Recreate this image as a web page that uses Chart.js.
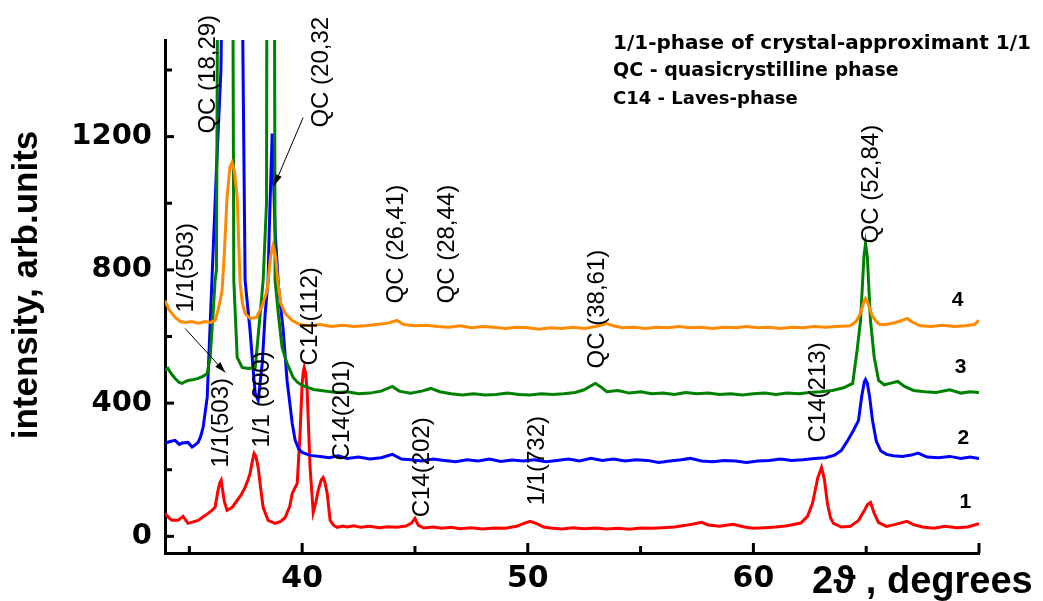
<!DOCTYPE html>
<html>
<head>
<meta charset="utf-8">
<script src="https://cdn.jsdelivr.net/npm/chart.js@4.4.0/dist/chart.umd.min.js"></script>
<style>
  html, body { margin: 0; padding: 0; background: #fff; }
</style>
</head>
<body>
<canvas id="xrd" width="1043" height="601"></canvas>
<script>
// pattern 1 (red)
const redX = [33.92,34.1,34.23,34.5,34.72,34.94,35.2,35.39,35.6,35.83,
  36.0,36.14,36.27,36.35,36.41,36.47,36.55,36.67,36.9,37.12,
  37.3,37.47,37.6,37.69,37.8,37.87,37.95,38.05,38.15,38.27,
  38.49,38.8,39.05,39.25,39.45,39.56,39.78,39.9,40.0,40.05,
  40.09,40.15,40.22,40.35,40.49,40.6,40.71,40.85,40.93,41.0,
  41.11,41.24,41.4,41.55,41.8,42.0,42.3,42.6,43.0,43.4,
  43.8,44.2,44.6,44.85,45.0,45.15,45.4,45.8,46.2,46.6,
  47.0,47.5,48.0,48.5,49.0,49.5,49.8,50.1,50.4,50.7,
  51.0,51.5,52.0,52.5,53.0,53.5,54.0,54.5,55.0,55.5,
  56.0,56.5,57.0,57.4,57.7,58.0,58.5,59.1,59.6,60.0,
  60.5,61.0,61.5,62.1,62.4,62.62,62.85,63.02,63.15,63.28,
  63.42,63.55,63.9,64.3,64.66,64.9,65.05,65.19,65.35,65.54,
  65.9,66.3,66.8,67.1,67.5,68.0,68.5,69.0,69.5,70.0];
const redY = [69,55,48,48,60,39,44,48,58,69,
  78,87,138,160,168,140,105,78,87,108,
  125,147,170,189,228,249,240,207,150,87,
  48,39,45,57,90,129,159,300,459,495,
  507,490,438,207,72,100,138,170,177,165,
  129,48,33,27,31,28,32,27,30,26,
  29,27,31,40,54,33,25,28,24,27,
  23,26,22,25,24,30,38,45,38,28,
  25,22,26,23,25,22,24,21,25,24,
  26,28,33,38,42,34,30,36,28,24,
  26,28,32,40,60,99,175,207,170,99,
  55,39,28,30,48,75,95,102,70,42,
  30,36,45,35,28,24,30,26,28,38];

// pattern 2 (blue)
const blueX = [33.92,34.1,34.37,34.55,34.68,34.94,35.12,35.25,35.39,35.5,
  35.61,35.79,35.88,36.0,36.2,36.4,36.94,37.47,37.69,37.83,
  37.92,38.05,38.15,38.23,38.36,38.49,38.54,38.63,38.67,38.71,
  38.8,38.95,39.16,39.33,39.56,39.69,39.85,40.0,40.35,40.8,
  41.2,41.6,42.0,42.5,43.0,43.5,44.0,44.4,44.8,45.3,
  45.8,46.3,46.8,47.3,47.8,48.3,48.8,49.3,49.8,50.3,
  50.8,51.3,51.8,52.3,52.8,53.3,53.8,54.3,54.8,55.3,
  55.8,56.3,56.8,57.2,57.7,58.2,58.7,59.2,59.7,60.2,
  60.7,61.2,61.7,62.2,62.7,63.2,63.6,63.9,64.2,64.45,
  64.66,64.8,64.92,64.97,65.05,65.15,65.28,65.45,65.65,65.9,
  66.2,66.6,67.0,67.3,67.7,68.2,68.7,69.2,69.6,70.0];
const blueY = [279,284,288,276,280,282,268,274,282,300,
  327,417,567,768,1100,1400,4500,768,618,498,
  429,408,470,519,669,768,918,1119,1209,1119,
  918,750,618,468,339,288,262,252,243,240,
  236,242,234,238,232,236,246,232,230,226,
  232,228,224,230,226,232,225,229,226,230,
  224,228,232,226,234,228,232,226,230,228,
  222,226,230,234,226,224,228,226,222,226,
  228,232,228,230,234,236,244,258,290,320,
  348,420,465,471,460,420,348,285,256,246,
  242,240,244,250,238,236,240,234,238,234];

// pattern 3 (green)
const greenX = [33.92,34.05,34.2,34.37,34.55,34.68,34.8,34.94,35.15,35.39,
  35.6,35.79,35.92,36.05,36.14,36.2,36.63,36.97,37.12,37.34,
  37.6,37.92,38.14,38.27,38.42,38.58,38.8,38.94,39.11,39.33,
  39.6,39.8,40.0,40.5,41.0,41.5,42.0,42.5,43.0,43.5,
  44.0,44.3,44.8,45.3,45.7,46.1,46.6,47.1,47.6,48.1,
  48.6,49.1,49.6,50.1,50.6,51.1,51.6,52.1,52.5,52.8,
  53.0,53.25,53.5,54.0,54.5,55.0,55.5,56.0,56.5,57.0,
  57.5,58.0,58.5,59.0,59.5,60.0,60.5,61.0,61.5,62.0,
  62.5,63.0,63.5,64.0,64.4,64.6,64.75,64.9,64.97,65.05,
  65.19,65.35,65.55,65.8,66.1,66.4,66.7,67.1,67.6,68.1,
  68.7,69.2,69.6,70.0];
const greenY = [498,504,488,474,462,459,464,468,470,474,
  480,489,537,669,768,800,8000,768,537,507,
  504,507,669,768,1000,8000,768,669,567,519,
  477,462,453,441,436,432,434,428,430,436,
  450,436,430,436,444,434,428,424,428,424,
  426,430,426,424,428,426,428,432,440,452,
  459,448,434,438,430,434,428,430,426,432,
  428,430,426,428,424,428,430,426,430,428,
  432,434,438,446,459,560,648,840,879,840,
  648,540,468,455,460,465,450,438,434,432,
  440,430,434,432];

// pattern 4 (orange)
const orangeX = [33.92,34.1,34.37,34.6,34.81,35.1,35.4,35.7,35.95,36.14,
  36.27,36.37,36.45,36.55,36.67,36.8,36.89,37.0,37.12,37.19,
  37.25,37.35,37.47,37.7,37.97,38.2,38.45,38.6,38.71,38.82,
  38.93,39.05,39.25,39.56,39.9,40.3,40.8,41.3,41.8,42.3,
  42.8,43.3,43.8,44.2,44.5,45.0,45.5,46.0,46.5,47.0,
  47.5,48.0,48.5,49.0,49.5,50.0,50.5,51.0,51.5,52.0,
  52.5,53.0,53.5,53.8,54.2,54.7,55.2,55.7,56.2,56.7,
  57.2,57.7,58.2,58.7,59.2,59.7,60.2,60.7,61.2,61.7,
  62.2,62.7,63.2,63.7,64.3,64.55,64.75,64.9,64.97,65.05,
  65.28,65.45,65.6,65.9,66.3,66.83,67.0,67.4,67.9,68.4,
  68.9,69.4,69.8,70.0];
const orangeY = [708,680,657,645,642,645,640,645,642,648,
  678,710,738,850,1017,1110,1122,1095,1017,880,
  760,700,669,654,657,687,738,840,873,840,
  760,700,669,648,636,632,636,630,634,630,
  632,636,640,648,636,632,634,630,628,632,
  626,630,628,624,628,626,622,626,624,628,
  624,630,639,632,626,628,624,628,626,630,
  626,628,624,628,626,630,626,628,624,628,
  626,630,628,630,632,645,670,705,714,705,
  660,645,636,636,642,654,645,632,630,634,
  630,632,636,648];

// axis ticks
const xTickLabels = [40, 50, 60];
const xMajor = [40, 50, 60, 70];
const xMinor = [35, 45, 55, 65];
const yTickLabels = [0, 400, 800, 1200];
const yMajor = [0, 400, 800, 1200];
const yMinor = [200, 600, 1000, 1400];

// peak labels: text, 2theta, intensity where the (rotated) text starts
const peakLabels = [
  ['QC (18,29)', 35.84, 1209],
  ['QC (20,32', 40.84, 1227],
  ['1/1(503)', 34.86, 672],
  ['1/1(503)', 36.41, 207],
  ['1/1 (600)', 38.23, 267],
  ['C14(112)', 40.35, 513],
  ['C14(201)', 41.77, 228],
  ['C14(202)', 45.32, 57],
  ['1/1(732)', 50.42, 93],
  ['QC (26,41)', 44.17, 699],
  ['QC (28,44)', 46.43, 699],
  ['QC (38,61)', 53.08, 504],
  ['QC (52,84)', 65.23, 879],
  ['C14(213)', 62.88, 282]
];
const arrows = [
  [40.04, 1257, 38.76, 1053],
  [34.81, 624, 36.59, 492]
];
const curveNumbers = [['4', 69.05, 708], ['3', 69.18, 507], ['2', 69.31, 294], ['1', 69.4, 102]];
const notes = ['1/1-phase of crystal-approximant 1/1', 'QC - quasicrystilline phase', 'C14 - Laves-phase'];

function toPoints(xs, ys) {
  return xs.map((x, i) => ({x: x, y: ys[i]}));
}

function lineSet(xs, ys, color, order) {
  return {
    data: toPoints(xs, ys),
    borderColor: color,
    borderWidth: 3,
    pointRadius: 0,
    tension: 0,
    fill: false,
    order: order
  };
}

const decor = {
  id: 'decor',
  afterDraw(chart) {
    const ctx = chart.ctx;
    const a = chart.chartArea;
    const x = chart.scales.x, y = chart.scales.y;
    ctx.save();
    ctx.strokeStyle = '#000';
    ctx.fillStyle = '#000';
    ctx.lineWidth = 3;
    // inward tick marks
    xMajor.forEach(v => { const p = x.getPixelForValue(v); ctx.beginPath(); ctx.moveTo(p, a.bottom); ctx.lineTo(p, a.bottom - 10); ctx.stroke(); });
    xMinor.forEach(v => { const p = x.getPixelForValue(v); ctx.beginPath(); ctx.moveTo(p, a.bottom); ctx.lineTo(p, a.bottom - 7); ctx.stroke(); });
    yMajor.forEach(v => { const p = y.getPixelForValue(v); ctx.beginPath(); ctx.moveTo(a.left, p); ctx.lineTo(a.left + 9, p); ctx.stroke(); });
    yMinor.forEach(v => { const p = y.getPixelForValue(v); ctx.beginPath(); ctx.moveTo(a.left, p); ctx.lineTo(a.left + 7, p); ctx.stroke(); });

    // peak labels
    ctx.font = '24px "Liberation Sans", Arial, sans-serif';
    ctx.textAlign = 'left';
    ctx.textBaseline = 'middle';
    peakLabels.forEach(l => {
      ctx.save();
      ctx.translate(x.getPixelForValue(l[1]), y.getPixelForValue(l[2]));
      ctx.rotate(-Math.PI / 2);
      ctx.fillText(l[0], 0, 0);
      ctx.restore();
    });

    // arrows
    ctx.lineWidth = 1;
    arrows.forEach(r => {
      const x1 = x.getPixelForValue(r[0]), y1 = y.getPixelForValue(r[1]);
      const x2 = x.getPixelForValue(r[2]), y2 = y.getPixelForValue(r[3]);
      const ang = Math.atan2(y2 - y1, x2 - x1);
      ctx.beginPath(); ctx.moveTo(x1, y1); ctx.lineTo(x2, y2); ctx.stroke();
      ctx.beginPath();
      ctx.moveTo(x2, y2);
      ctx.lineTo(x2 - 11 * Math.cos(ang) + 3.5 * Math.sin(ang), y2 - 11 * Math.sin(ang) - 3.5 * Math.cos(ang));
      ctx.lineTo(x2 - 11 * Math.cos(ang) - 3.5 * Math.sin(ang), y2 - 11 * Math.sin(ang) + 3.5 * Math.cos(ang));
      ctx.closePath(); ctx.fill();
    });

    // curve numbers
    ctx.font = 'bold 21px "Liberation Sans", Arial, sans-serif';
    ctx.textAlign = 'center';
    curveNumbers.forEach(n => ctx.fillText(n[0], x.getPixelForValue(n[1]), y.getPixelForValue(n[2])));

    // notes at top right
    ctx.textAlign = 'left';
    ctx.textBaseline = 'alphabetic';
    ctx.font = 'bold 20px "DejaVu Sans", sans-serif';
    ctx.fillText(notes[0], 613, 49);
    ctx.font = 'bold 19px "DejaVu Sans", sans-serif';
    ctx.fillText(notes[1], 613, 76);
    ctx.font = 'bold 18px "DejaVu Sans", sans-serif';
    ctx.fillText(notes[2], 613, 104);

    // axis titles
    ctx.font = 'bold 38px "Liberation Sans", Arial, sans-serif';
    ctx.fillText('2\u03D1 , degrees', 812, 593);
    ctx.save();
    ctx.translate(27, 285);
    ctx.rotate(-Math.PI / 2);
    ctx.font = 'bold 35px "Liberation Sans", Arial, sans-serif';
    ctx.textAlign = 'center';
    ctx.textBaseline = 'middle';
    ctx.fillText('intensity, arb.units', 0, 0);
    ctx.restore();
    ctx.restore();
  }
};

new Chart(document.getElementById('xrd'), {
  type: 'line',
  data: {
    datasets: [
      lineSet(redX, redY, '#ff0000', 4),
      lineSet(blueX, blueY, '#0000ff', 3),
      lineSet(greenX, greenY, '#008000', 2),
      lineSet(orangeX, orangeY, '#ff8a00', 1)
    ]
  },
  options: {
    responsive: false,
    animation: false,
    devicePixelRatio: 1,
    layout: { padding: { top: 40, right: 64, bottom: 0, left: 0 } },
    plugins: { legend: { display: false }, tooltip: { enabled: false } },
    scales: {
      x: {
        type: 'linear',
        min: 33.92,
        max: 70,
        afterBuildTicks: s => { s.ticks = xTickLabels.map(v => ({value: v})); },
        afterFit: s => { s.height = 48; },
        grid: { display: false, drawTicks: false },
        border: { display: true, color: '#000', width: 3 },
        ticks: { autoSkip: false, maxRotation: 0, padding: 8, color: '#000',
                 callback: v => String(v),
                 font: { family: 'DejaVu Sans', size: 30, weight: 'bold' } }
      },
      y: {
        min: -50,
        max: 1490,
        afterBuildTicks: s => { s.ticks = yTickLabels.map(v => ({value: v})); },
        afterFit: s => { s.width = 165; },
        grid: { display: false, drawTicks: false },
        border: { display: true, color: '#000', width: 3 },
        ticks: { autoSkip: false, padding: 13, color: '#000',
                 callback: v => String(v),
                 font: { family: 'DejaVu Sans', size: 29, weight: 'bold' } }
      }
    }
  },
  plugins: [decor]
});
</script>
</body>
</html>
